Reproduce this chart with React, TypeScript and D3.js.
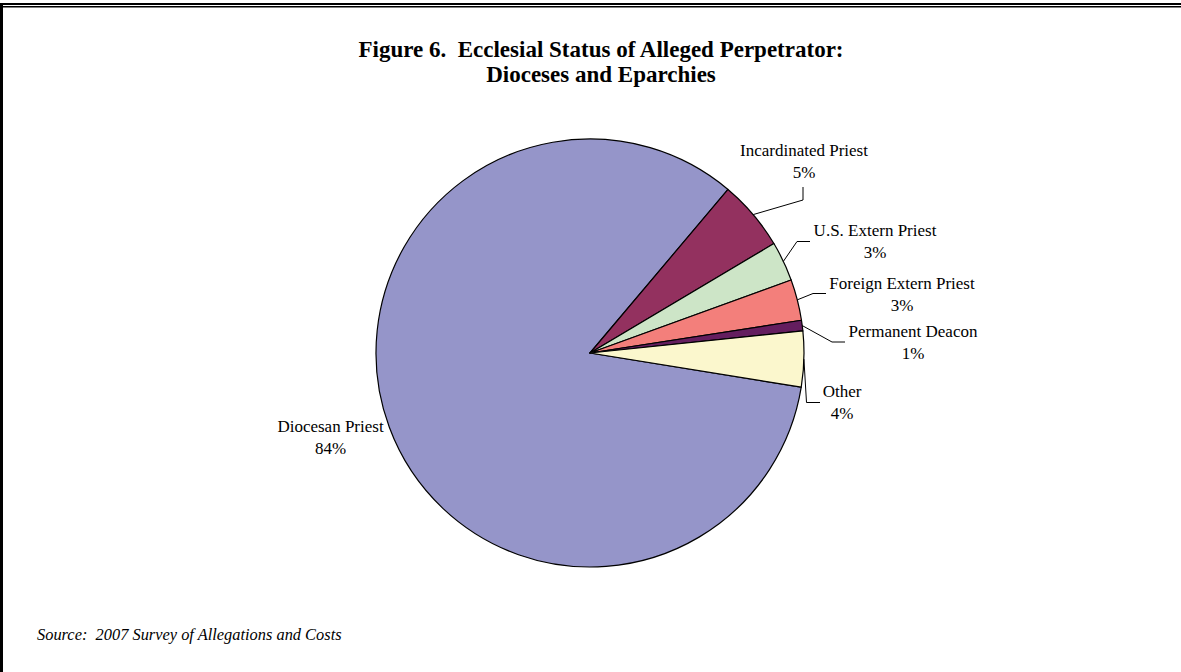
import React from "react";
import * as d3 from "d3";

// Ecclesial status of the alleged perpetrator (percent of all allegations)
const categories = [
  "Diocesan Priest",
  "Incardinated Priest",
  "U.S. Extern Priest",
  "Foreign Extern Priest",
  "Permanent Deacon",
  "Other",
];
const shares = [83.6, 5.3, 3.0, 3.1, 0.8, 4.2];
const sliceColors = ["#9595c9", "#93315f", "#cde5c7", "#f37f7b", "#641e5f", "#fbf7cd"];

const titleLines = [
  "Figure 6.  Ecclesial Status of Alleged Perpetrator:",
  "Dioceses and Eparchies",
];
const sourceNote = "Source:  2007 Survey of Allegations and Costs";

// Label placement: text centre, first baseline, and leader-line elbow/end points
const labelLayout = [
  { x: 330.5, y: 432, leader: null },
  { x: 804, y: 156, leader: [[803, 200], [803, 187]] },
  { x: 875, y: 236, leader: [[797, 241.5], [810, 241.5]] },
  { x: 902, y: 289, leader: [[813, 293.5], [826, 293.5]] },
  { x: 913, y: 337, leader: [[832, 342], [845, 342]] },
  { x: 842, y: 397, leader: [[806.5, 402.5], [820, 402.5]] },
];

const W = 1181;
const H = 672;
const CX = 590;
const CY = 353;
const R = 214;
const START_DEG = 99.2;
const LINE_GAP = 21.5;

export default function App() {
  const items = categories.map((name, i) => ({ name, value: shares[i], i }));
  const start = (START_DEG * Math.PI) / 180;
  const pie = d3
    .pie<any>()
    .sort(null)
    .value((d) => d.value)
    .startAngle(start)
    .endAngle(start + 2 * Math.PI);
  const arcs = pie(items);
  const arcGen = d3.arc<any>().innerRadius(0).outerRadius(R);
  const total = d3.sum(shares);

  const serif = "'Liberation Serif', 'Times New Roman', serif";

  return (
    <svg
      width={W}
      height={H}
      style={{ position: "absolute", left: 0, top: 0, background: "#fff" }}
    >
      {/* frame */}
      <rect x={0} y={3} width={W} height={2} fill="#000" />
      <rect x={0} y={6} width={W} height={1.5} fill="#000" />
      <rect x={0} y={3} width={3} height={H - 3} fill="#000" />

      {/* title */}
      <text
        x={601}
        textAnchor="middle"
        fontFamily={serif}
        fontWeight="bold"
        fontSize={23}
        fill="#000"
        style={{ whiteSpace: "pre" }}
      >
        {titleLines.map((t, i) => (
          <tspan key={i} x={601} y={57 + i * 25}>
            {t}
          </tspan>
        ))}
      </text>

      {/* slices */}
      <g transform={`translate(${CX},${CY})`}>
        {arcs.map((a, i) => (
          <path
            key={i}
            d={arcGen(a) as string}
            fill={sliceColors[i]}
            stroke="#000"
            strokeWidth={1.2}
            strokeLinejoin="round"
          />
        ))}
      </g>

      {/* leader lines */}
      {arcs.map((a, i) => {
        const lay = labelLayout[i];
        if (!lay.leader) return null;
        const mid = (a.startAngle + a.endAngle) / 2;
        const px = CX + R * Math.sin(mid);
        const py = CY - R * Math.cos(mid);
        const pts = [[px, py], ...lay.leader];
        return (
          <path
            key={i}
            d={d3.line()(pts as [number, number][]) as string}
            fill="none"
            stroke="#000"
            strokeWidth={1}
          />
        );
      })}

      {/* labels */}
      {arcs.map((a, i) => {
        const lay = labelLayout[i];
        const pct = Math.round((a.data.value / total) * 100);
        return (
          <text
            key={i}
            textAnchor="middle"
            fontFamily={serif}
            fontSize={17}
            fill="#000"
          >
            <tspan x={lay.x} y={lay.y}>
              {a.data.name}
            </tspan>
            <tspan x={lay.x} y={lay.y + LINE_GAP}>
              {pct}%
            </tspan>
          </text>
        );
      })}

      {/* source note */}
      <text
        x={37}
        y={640}
        fontFamily={serif}
        fontStyle="italic"
        fontSize={16.4}
        fill="#000"
        style={{ whiteSpace: "pre" }}
      >
        {sourceNote}
      </text>
    </svg>
  );
}
